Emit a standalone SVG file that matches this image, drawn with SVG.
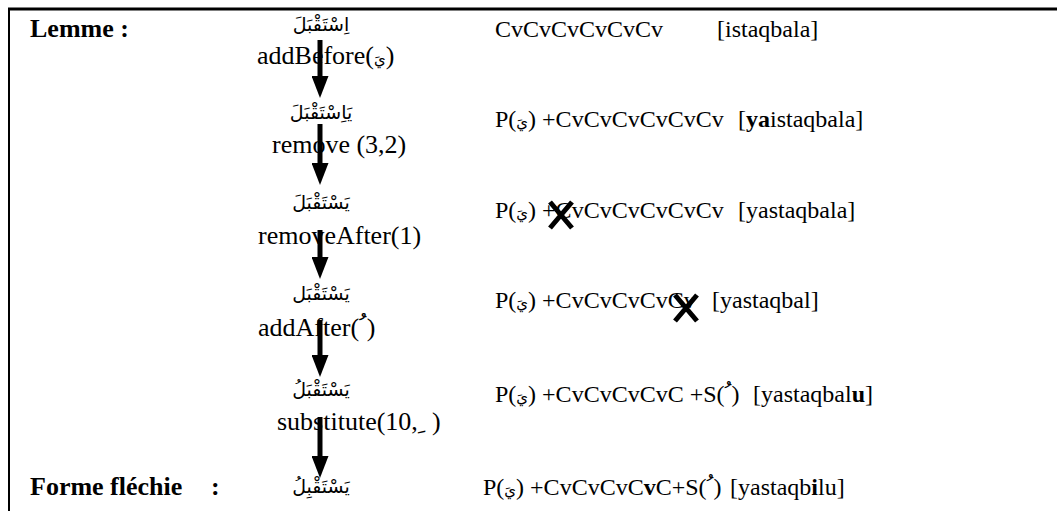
<svg xmlns="http://www.w3.org/2000/svg" width="1057" height="511" viewBox="0 0 1057 511">
<style>
.t{font-family:"Liberation Serif","DejaVu Sans",serif;font-size:24px;fill:#000}
.op{font-family:"Liberation Serif","DejaVu Sans",serif;font-size:26px;fill:#000}
.lb{font-family:"Liberation Serif",serif;font-size:26px;font-weight:bold;fill:#000}
.b{font-weight:bold}
.a{font-family:"DejaVu Sans",serif;font-size:15px}
.ar{font-family:"DejaVu Sans",serif;font-size:19px;fill:#000;text-anchor:middle}
.shaft{stroke:#000;stroke-width:5}
.x{stroke:#000;stroke-width:5;stroke-linecap:butt}
</style>
<defs>
<marker id="ah" markerWidth="4.4" markerHeight="3.4" refX="0" refY="1.7" orient="auto" markerUnits="strokeWidth">
<path d="M0,0 L4.4,1.7 L0,3.4 Z" fill="#000"/>
</marker>
</defs>
<g id="frame">
<line x1="8" y1="9" x2="1057" y2="9" stroke="#000" stroke-width="3"/>
<line x1="9" y1="8" x2="9" y2="511" stroke="#000" stroke-width="2"/>
</g>
<g id="labels">
<text class="lb" x="30" y="37">Lemme :</text>
<text class="lb" x="30" y="495">Forme fléchie</text>
<text class="lb" x="211" y="495">:</text>
</g>
<g id="node-1">
<text class="ar" x="321" y="31">اِسْتَقْبَلَ</text>
<text class="t" x="495" y="37">CvCvCvCvCvCv</text>
<text class="t" x="717" y="37">[istaqbala]</text>
</g>
<g id="op-1"><text class="op" x="257" y="64">addBefore(<tspan class="a">يَ</tspan>)</text></g>
<g id="node-2">
<text class="ar" x="321" y="119">يَاِسْتَقْبَلَ</text>
<text class="t" x="495" y="127">P(<tspan class="a">يَ</tspan>) +CvCvCvCvCvCv</text>
<text class="t" x="738" y="127">[<tspan class="b">ya</tspan>istaqbala]</text>
</g>
<g id="op-2"><text class="op" x="272" y="153">remove (3,2)</text></g>
<g id="node-3">
<text class="ar" x="321" y="209">يَسْتَقْبَلَ</text>
<text class="t" x="495" y="218">P(<tspan class="a">يَ</tspan>) +CvCvCvCvCvCv</text>
<text class="t" x="738" y="218">[yastaqbala]</text>
<path class="x" d="M550,202 L572,228 M572,202 L550,228"/>
</g>
<g id="op-3"><text class="op" x="258" y="244">removeAfter(1)</text></g>
<g id="node-4">
<text class="ar" x="321" y="300">يَسْتَقْبَل</text>
<text class="t" x="495" y="308">P(<tspan class="a">يَ</tspan>) +CvCvCvCvCv</text>
<text class="t" x="712" y="308">[yastaqbal]</text>
<path class="x" d="M675,295 L697,321 M697,295 L675,321"/>
</g>
<g id="op-4"><text class="op" x="258" y="336">addAfter( ُ)</text></g>
<g id="node-5">
<text class="ar" x="321" y="396">يَسْتَقْبَلُ</text>
<text class="t" x="495" y="402">P(<tspan class="a">يَ</tspan>) +CvCvCvCvC +S( ُ)</text>
<text class="t" x="753" y="402">[yastaqbal<tspan class="b">u</tspan>]</text>
</g>
<g id="op-5"><text class="op" x="277" y="430">substitute(10, ِ )</text></g>
<g id="node-6">
<text class="ar" x="321" y="493">يَسْتَقْبِلُ</text>
<text class="t" x="483" y="495">P(<tspan class="a">يَ</tspan>) +CvCvCvC<tspan class="b">v</tspan>C+S( ُ)</text>
<text class="t" x="730" y="495">[yastaqb<tspan class="b">i</tspan>lu]</text>
</g>
<g id="connectors">
<line class="shaft" x1="320" y1="40" x2="320" y2="76" marker-end="url(#ah)"/>
<line class="shaft" x1="320" y1="124" x2="320" y2="163" marker-end="url(#ah)"/>
<line class="shaft" x1="320" y1="230" x2="320" y2="257" marker-end="url(#ah)"/>
<line class="shaft" x1="320" y1="320" x2="320" y2="355" marker-end="url(#ah)"/>
<line class="shaft" x1="320" y1="417" x2="320" y2="456" marker-end="url(#ah)"/>
</g>
</svg>
